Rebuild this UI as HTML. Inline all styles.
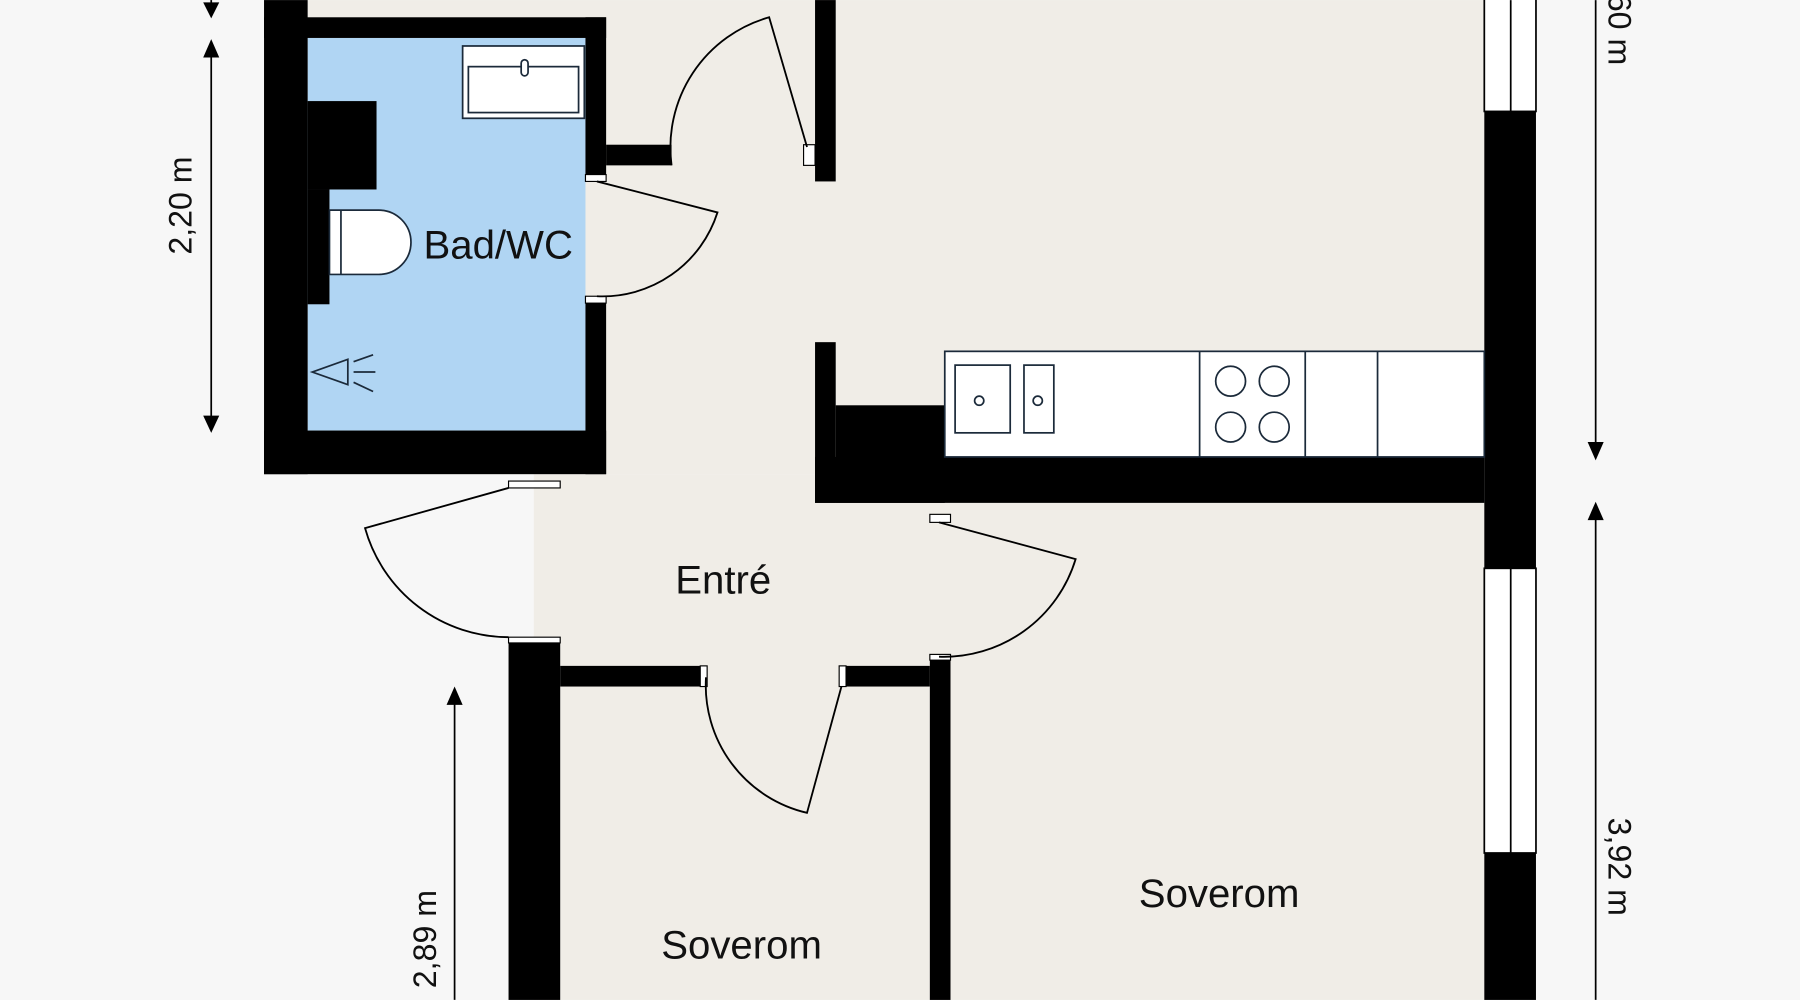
<!DOCTYPE html>
<html><head><meta charset="utf-8"><style>html,body{margin:0;padding:0;background:#f7f7f7}svg{display:block}</style></head>
<body>
<svg width="1800" height="1000" viewBox="0 0 1568 871" xmlns="http://www.w3.org/2000/svg" font-family="Liberation Sans, sans-serif">
<rect width="1568" height="871" fill="#f7f7f7"/>
<rect x="268" y="0" width="1025" height="413" fill="#f0ede7"/>
<rect x="465" y="413" width="828" height="458" fill="#f0ede7"/>
<rect x="268" y="33" width="242" height="342" fill="#b0d5f3"/>
<g fill="#000">
<rect x="230" y="0" width="38" height="413"/>
<rect x="230" y="15" width="298" height="18"/>
<rect x="230" y="375" width="298" height="38"/>
<rect x="510" y="15" width="18" height="143"/>
<rect x="510" y="260" width="18" height="153"/>
<rect x="268" y="88" width="60" height="77"/>
<rect x="268" y="165" width="19" height="100"/>
<rect x="528" y="126" width="57" height="18"/>
<rect x="710" y="0" width="18" height="158"/>
<rect x="710" y="298" width="18" height="140"/>
<rect x="728" y="353" width="95" height="85"/>
<rect x="710" y="398" width="583" height="40"/>
<rect x="1293" y="97" width="45" height="398"/>
<rect x="1293" y="743" width="45" height="128"/>
<rect x="443" y="555" width="45" height="316"/>
<rect x="488" y="580" width="127" height="18"/>
<rect x="733" y="580" width="77" height="18"/>
<rect x="810" y="572" width="18" height="299"/>
</g>
<g fill="#fff" stroke="#000" stroke-width="1.5">
<rect x="1293" y="-2" width="45" height="99"/>
<rect x="1293" y="495" width="45" height="248"/>
</g>
<g stroke="#000" stroke-width="1.5">
<line x1="1316" y1="0" x2="1316" y2="97"/><line x1="1316" y1="495" x2="1316" y2="743"/>
</g>
<g fill="#fff" stroke="#000" stroke-width="1">
<rect x="443" y="419" width="45" height="6"/><rect x="443" y="555" width="45" height="5"/>
<rect x="810" y="448" width="18" height="7"/><rect x="810" y="570" width="18" height="5"/>
<rect x="510" y="152" width="18" height="6"/><rect x="510" y="258" width="18" height="6"/>
<rect x="700" y="126" width="10" height="18"/><rect x="610" y="580" width="6" height="18"/><rect x="731" y="580" width="6" height="18"/>
</g>
<g fill="none" stroke="#000" stroke-width="1.6">
<path d="M520 158 L625 185 A105 105 0 0 1 520 258"/>
<path d="M703 128 L670 15 A118 118 0 0 0 585 144"/>
<path d="M443 425 L318 460 A130 130 0 0 0 443 555"/>
<path d="M818 455 L937 487 A120 120 0 0 1 818 572"/>
<path d="M733 598 L703 708 A114 114 0 0 1 615 590"/>
</g>
<g fill="#fff" stroke="#1b2a3a" stroke-width="1.5">
<rect x="403" y="40" width="106" height="63"/>
<rect x="408" y="58" width="96" height="40"/>
<rect x="454" y="52" width="6" height="14" rx="3"/>
<path d="M287 183 H330 A28 28 0 0 1 330 239 H287 Z"/>
<line x1="297" y1="183" x2="297" y2="239"/>
</g>
<g fill="none" stroke="#1b2a3a" stroke-width="1.5">
<path d="M272 324 L303 313 L303 335 Z"/>
<line x1="308" y1="315" x2="325" y2="309"/><line x1="308" y1="324" x2="327" y2="324"/><line x1="308" y1="333" x2="325" y2="341"/>
</g>
<g fill="#fff" stroke="#1b2a3a" stroke-width="1.5">
<rect x="823" y="306" width="470" height="92"/>
<rect x="832" y="318" width="48" height="59"/>
<rect x="892" y="318" width="26" height="59"/>
<circle cx="853" cy="349" r="4"/><circle cx="904" cy="349" r="4"/>
<line x1="1045" y1="306" x2="1045" y2="398"/><line x1="1137" y1="306" x2="1137" y2="398"/><line x1="1200" y1="306" x2="1200" y2="398"/>
<circle cx="1072" cy="332" r="13"/><circle cx="1110" cy="332" r="13"/><circle cx="1072" cy="372" r="13"/><circle cx="1110" cy="372" r="13"/>
</g>
<g stroke="#000" stroke-width="1.5">
<line x1="184" y1="0" x2="184" y2="8"/><line x1="184" y1="42" x2="184" y2="368"/>
<line x1="1390" y1="0" x2="1390" y2="390"/><line x1="1390" y1="448" x2="1390" y2="871"/>
<line x1="396" y1="608" x2="396" y2="871"/>
</g>
<g fill="#000">
<path d="M177 2 L191 2 L184 16 Z"/>
<path d="M177 50 L191 50 L184 34 Z"/><path d="M177 362 L191 362 L184 377 Z"/>
<path d="M1383 385 L1397 385 L1390 401 Z"/><path d="M1383 453 L1397 453 L1390 437 Z"/>
<path d="M389 614 L403 614 L396 598 Z"/>
</g>
<g font-size="28" fill="#111">
<text transform="translate(167,179) rotate(-90)" text-anchor="middle">2,20 m</text>
<text transform="translate(1401,14) rotate(90)" text-anchor="middle">2,60 m</text>
<text transform="translate(1401,755) rotate(90)" text-anchor="middle">3,92 m</text>
<text transform="translate(380,818) rotate(-90)" text-anchor="middle">2,89 m</text>
</g>
<g font-size="35" fill="#111" text-anchor="middle">
<text x="434" y="225">Bad/WC</text>
<text x="630" y="517">Entré</text>
<text x="646" y="835">Soverom</text>
<text x="1062" y="790">Soverom</text>
</g>
</svg>
</body></html>
